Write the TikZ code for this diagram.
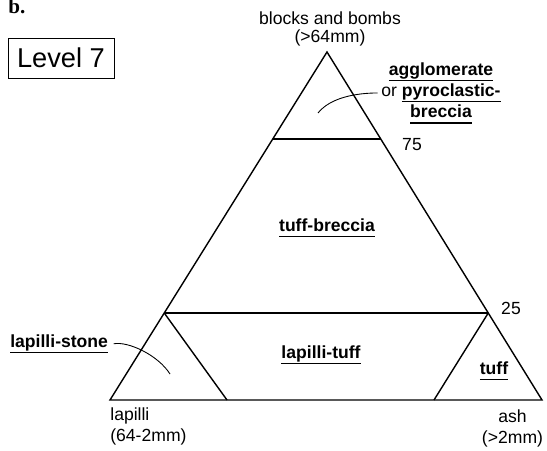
\documentclass[tikz,border=0pt]{standalone}
\usepackage{fontspec}
\setmainfont{Liberation Sans}
\newfontfamily\serifbold{Liberation Serif}
\usetikzlibrary{calc}

% underlined rock names
\newlength{\ulwd}
\newcommand{\ulword}[1]{\settowidth{\ulwd}{#1}\rlap{\rule[-3.6pt]{\ulwd}{0.7pt}}#1}

\tikzset{
  rockname/.style={font=\bfseries, inner sep=0pt},
  edge/.style={line width=0.8pt},
  leader/.style={line width=0.5pt}
}

\begin{document}
\begin{tikzpicture}
        \useasboundingbox (0,0) rectangle (10.94,9);

        % Corners of the triangle
        \coordinate (bomb) at (6.54,7.96);
        \coordinate (lapc) at (2.2,1.0);
        \coordinate (ashc) at (10.84,1.0);

        % Outer triangle
        \draw[edge] (bomb) -- (lapc) -- (ashc) -- cycle;

        % 75 and 25 lines
        \draw[edge] ($(bomb)!0.25!(lapc)$) coordinate (up75) -- ($(bomb)!0.25!(ashc)$) coordinate (ur75);
        \draw[edge] ($(bomb)!0.75!(lapc)$) coordinate (lo25) -- ($(bomb)!0.75!(ashc)$) coordinate (ro25);

        % Small corner triangles
        \coordinate (lapfoot) at (4.54,1.0);
        \coordinate (ashfoot) at (8.68,1.0);
        \draw[edge] (lo25) -- (lapfoot);
        \draw[edge] (ro25) -- (ashfoot);

        % Corner labels
        \node[font=\fontsize{10}{10}\selectfont, align=center, anchor=south, inner sep=0pt] (bbtext) at (6.6,8.08) {blocks and bombs\\(>64mm)};
        \node[align=left, anchor=north west, inner sep=0pt] (lapilli) at (2.2,0.846) {lapilli\\(64-2mm)};
        \node[align=center, anchor=north, inner sep=0pt] (ash) at (10.25,0.82) {ash\\(>2mm)};

        % Percent marks
        \node[anchor=base, inner sep=0pt] (n75) at (8.24,5.99) {75};
        \node[anchor=base, inner sep=0pt] (n25) at (10.22,2.72) {25};

        % Heading
        \node[font=\serifbold\bfseries\fontsize{12}{14}\selectfont, anchor=base west, inner sep=0pt] (part) at (0.16,8.72) {b.};
        \node[draw, line width=0.5pt, minimum width=2.12cm, minimum height=0.8cm, font=\fontsize{15.5}{18}\selectfont] (level) at (1.22,7.84) {Level 7};

        % Rock names
        \node[rockname, align=center, anchor=north] (agglo) at (8.82,7.76) {\ulword{agglomerate}\\{\mdseries or }\ulword{pyroclastic-}\\\ulword{breccia}};
        \node[rockname, anchor=base] (tbreccia) at (6.54,4.38) {\ulword{tuff-breccia}};
        \node[rockname, anchor=base] (ltuff) at (6.42,1.84) {\ulword{lapilli-tuff}};
        \node[rockname, anchor=base] (tuff) at (9.88,1.52) {\ulword{tuff}};
        \node[rockname, inner xsep=3pt, anchor=base west] (lapstone) at (0.094,2.06) {\ulword{lapilli-stone}};

        % Leaders
        \coordinate (aggloend) at (6.36,6.74);
        \coordinate (lapsend) at (3.4,1.52);
        \draw[leader] ([xshift=-2pt]agglo.west) .. controls (7.1,7.14) and (6.6,7.04) .. (aggloend);
        \draw[leader] (lapstone.east) .. controls (2.56,2.18) and (3.16,1.9) .. (lapsend);
    \end{tikzpicture}
\end{document}
